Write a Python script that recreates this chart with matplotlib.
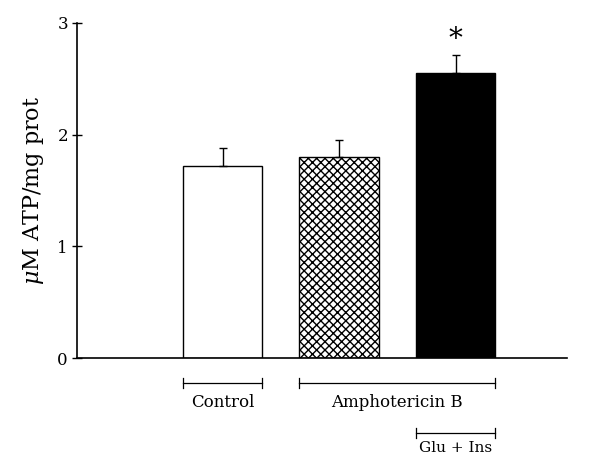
import matplotlib
matplotlib.use("Agg")
import matplotlib.pyplot as plt

plt.rcParams['font.family'] = ['DejaVu Serif']
plt.rcParams['mathtext.fontset'] = 'dejavuserif'
plt.rcParams['hatch.linewidth'] = 1.0

# values
groups = ["Control", "Amphotericin B", "Amphotericin B + Glu + Ins"]
atp_mean = [1.72, 1.80, 2.55]
atp_err = [0.16, 0.15, 0.16]
bar_faces = ["white", "white", "black"]
bar_hatches = ["", "xxxx", ""]
y_ticks = [0, 1, 2, 3]

pos = [1, 2, 3]
w = 0.68

fig = plt.figure(figsize=(5.9, 4.58), dpi=100)
ax = fig.add_axes([0.1305, 0.2183, 0.8305, 0.7315])

for p, m, e, fc, h in zip(pos, atp_mean, atp_err, bar_faces, bar_hatches):
    ax.bar(p, m, width=w, color=fc, edgecolor="black", hatch=h, linewidth=1.0, zorder=2)
    ax.errorbar(p, m, yerr=[[0], [e]], fmt="none", ecolor="black",
                elinewidth=1.0, capsize=3, capthick=1.0, zorder=3)

# significance mark
ax.text(pos[2], atp_mean[2] + atp_err[2] + 0.14, "*", ha="center", va="center", fontsize=20)

ax.set_xlim(-0.249, 3.957)
ax.set_ylim(0, 3)
ax.set_yticks(y_ticks)
ax.set_yticklabels([str(t) for t in y_ticks], fontsize=12)
ax.set_xticks([])
ax.spines['top'].set_visible(False)
ax.spines['right'].set_visible(False)
ax.spines['left'].set_linewidth(1.2)
ax.spines['bottom'].set_linewidth(1.2)
ax.tick_params(axis='y', direction='inout', length=7, width=1.0, pad=3)
ax.set_ylabel(r"$\mu$M ATP/mg prot", fontsize=16, labelpad=8)


def bracket(x0, x1, y, label, ty, fs=12):
    ax.plot([x0, x1], [y, y], color="black", lw=0.9, clip_on=False)
    for xx in (x0, x1):
        ax.plot([xx, xx], [y - 0.045, y + 0.045], color="black", lw=0.9, clip_on=False)
    ax.text((x0 + x1) / 2, ty, label, ha="center", va="center", fontsize=fs)


bracket(pos[0] - w / 2, pos[0] + w / 2, -0.225, "Control", -0.40)
bracket(pos[1] - w / 2, pos[2] + w / 2, -0.225, "Amphotericin B", -0.40)
bracket(pos[2] - w / 2, pos[2] + w / 2, -0.67, "Glu + Ins", -0.805, fs=11)

fig.savefig("out.png", dpi=100)
